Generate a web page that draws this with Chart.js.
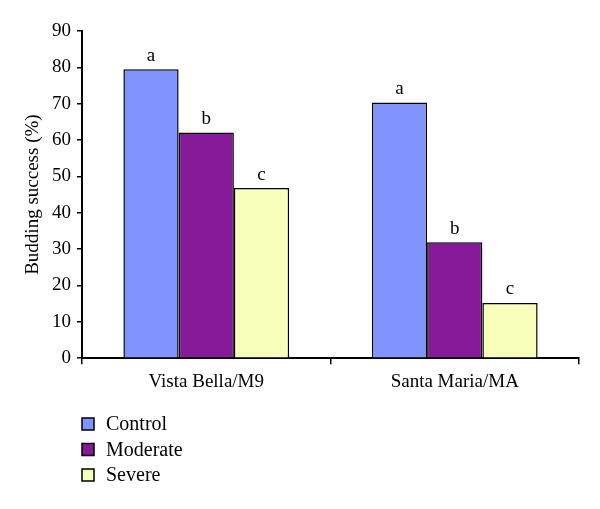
<!DOCTYPE html>
<html>
<head>
<meta charset="utf-8">
<script src="https://cdn.jsdelivr.net/npm/chart.js@4"></script>
<style>
  html, body { margin: 0; padding: 0; background: #fff; }
  #wrap { width: 600px; height: 509px; }
</style>
</head>
<body>
<div id="wrap"><canvas id="chart" width="600" height="509"></canvas></div>
<script>
  // Chart data
  var categories = ["Vista Bella/M9", "Santa Maria/MA"];
  var seriesNames = ["Control", "Moderate", "Severe"];
  var controlValues = [79.5, 70.3];
  var moderateValues = [62.1, 31.9];
  var severeValues = [46.8, 15.2];
  var letterLabels = [["a", "a"], ["b", "b"], ["c", "c"]];
  var yTicks = [0, 10, 20, 30, 40, 50, 60, 70, 80, 90];

  var colors = ["#8093ff", "#871a98", "#f7ffbb"];
  var FONT = "'Liberation Serif', 'DejaVu Serif', serif";

  // Draws a/b/c letters above each bar
  var letterPlugin = {
    id: "letters",
    afterDatasetsDraw: function (chart) {
      var ctx = chart.ctx;
      ctx.save();
      ctx.fillStyle = "#000";
      ctx.font = "19px " + FONT;
      ctx.textAlign = "center";
      ctx.textBaseline = "bottom";
      chart.data.datasets.forEach(function (ds, i) {
        var meta = chart.getDatasetMeta(i);
        meta.data.forEach(function (bar, j) {
          ctx.fillText(letterLabels[i][j], bar.x, bar.y - 4);
        });
      });
      ctx.restore();
    },
  };

  // Vertical legend under the plot
  var legendPlugin = {
    id: "vlegend",
    afterDraw: function (chart) {
      var ctx = chart.ctx;
      var left = chart.chartArea.left;
      ctx.save();
      ctx.font = "20px " + FONT;
      ctx.textBaseline = "middle";
      chart.data.datasets.forEach(function (ds, i) {
        var cy = 424 + i * 25.5;
        ctx.fillStyle = ds.backgroundColor;
        ctx.fillRect(left, cy - 6, 12, 12);
        ctx.lineWidth = 1.5;
        ctx.strokeStyle = "#000";
        ctx.strokeRect(left, cy - 6, 12, 12);
        ctx.fillStyle = "#000";
        ctx.fillText(ds.label, left + 24, cy + 1);
      });
      ctx.restore();
    },
  };

  var datasets = [controlValues, moderateValues, severeValues].map(function (vals, i) {
    return {
      label: seriesNames[i],
      data: vals,
      backgroundColor: colors[i],
      borderColor: "#000",
      borderWidth: 1.5,
      borderSkipped: "bottom",
      categoryPercentage: 0.667,
      barPercentage: 1.0,
    };
  });

  new Chart(document.getElementById("chart"), {
    type: "bar",
    data: { labels: categories, datasets: datasets },
    plugins: [letterPlugin, legendPlugin],
    options: {
      responsive: false,
      animation: false,
      layout: { padding: { top: 31, right: 21, bottom: 110, left: 22 } },
      plugins: {
        legend: { display: false },
        tooltip: { enabled: false },
      },
      scales: {
        x: {
          grid: {
            offset: true,
            drawOnChartArea: false,
            color: "#000",
            tickLength: 6,
            lineWidth: 1.5,
          },
          border: { color: "#000", width: 2 },
          ticks: {
            color: "#000",
            font: { family: FONT, size: 19 },
            padding: 6,
          },
        },
        y: {
          min: 0,
          max: 90,
          afterBuildTicks: function (scale) {
            scale.ticks = yTicks.map(function (v) { return { value: v }; });
          },
          afterFit: function (scale) { scale.width = 60; },
          grid: {
            drawOnChartArea: false,
            color: "#000",
            tickLength: 5,
            lineWidth: 1.5,
          },
          border: { color: "#000", width: 2 },
          ticks: {
            color: "#000",
            font: { family: FONT, size: 19 },
            padding: 6,
          },
          title: {
            display: true,
            text: "Budding success (%)",
            color: "#000",
            font: { family: FONT, size: 19 },
            padding: 0,
          },
        },
      },
    },
  });
</script>
</body>
</html>
